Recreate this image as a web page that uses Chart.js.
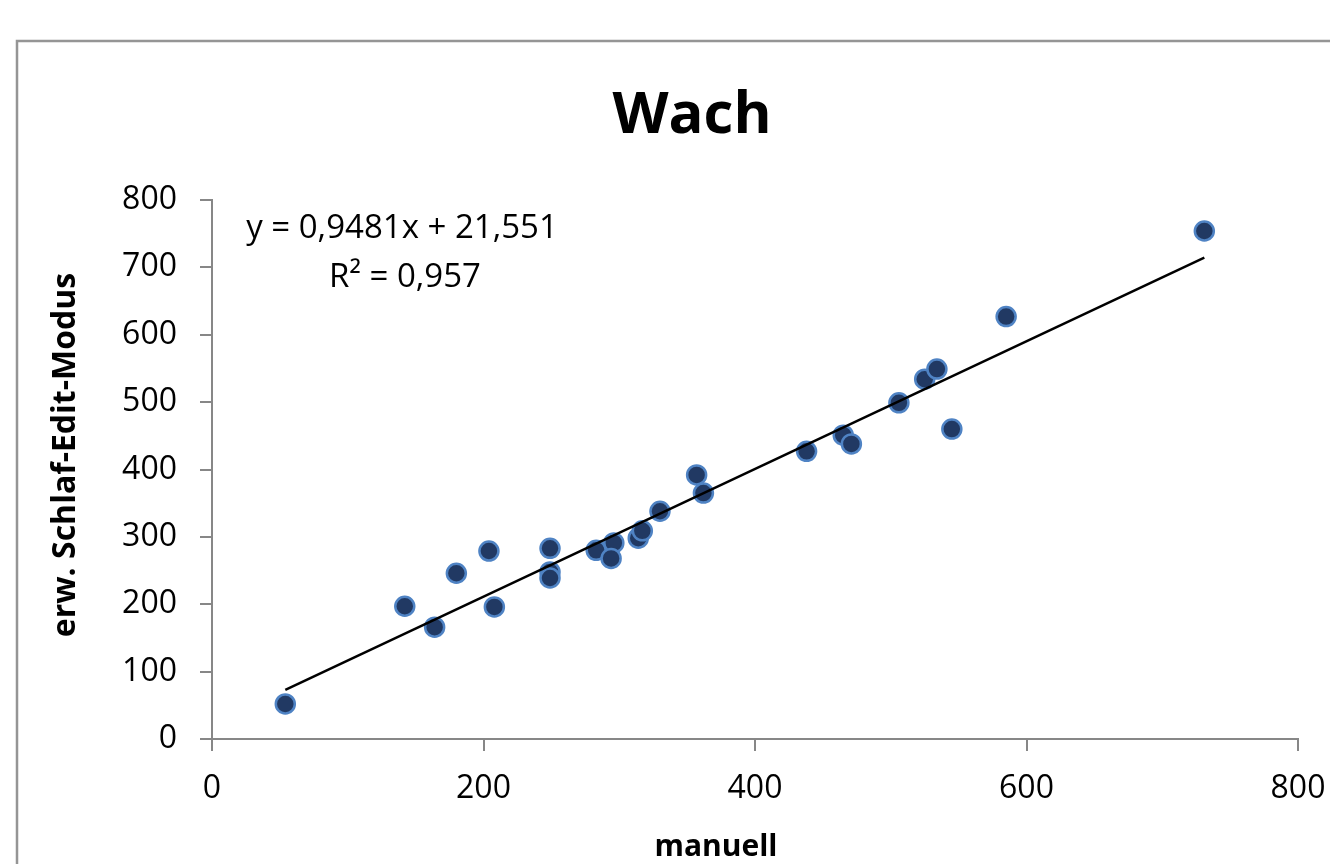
<!DOCTYPE html>
<html>
<head>
<meta charset="utf-8">
<script src="https://cdn.jsdelivr.net/npm/chart.js@4/dist/chart.umd.min.js"></script>
<style>
  html, body { margin: 0; padding: 0; background: #ffffff; overflow: hidden; }
  #wrap { position: absolute; left: 0; top: 0; width: 1330px; height: 864px; }
</style>
</head>
<body>
<div id="wrap"><canvas id="c" width="1330" height="864"></canvas></div>
<script>
// ---- data ----
const manuell = [54, 142, 164, 180, 204, 208, 249, 249, 249, 283, 296, 294, 314, 317, 330, 357, 362, 438, 465, 471, 506, 525, 534, 545, 585, 731];
const schlafEdit = [52, 197, 166, 246, 279, 196, 283, 248, 239, 280, 291, 268, 298, 309, 338, 392, 365, 427, 451, 438, 499, 534, 549, 460, 627, 754];
const xTicks = [0, 200, 400, 600, 800];
const yTicks = [0, 100, 200, 300, 400, 500, 600, 700, 800];
const trendSlope = 0.9481;
const trendIntercept = 21.551;
const chartTitle = 'Wach';
const xTitle = 'manuell';
const yTitle = 'erw. Schlaf-Edit-Modus';
const eqLine1 = 'y = 0,9481x + 21,551';
const eqLine2 = 'R² = 0,957';

const points = manuell.map((x, i) => ({ x: x, y: schlafEdit[i] }));
const xMin = Math.min(...manuell), xMax = Math.max(...manuell);
const trend = [xMin, xMax].map(x => ({ x: x, y: trendSlope * x + trendIntercept }));

const FONT = '"Open Sans", "DejaVu Sans", sans-serif';
const AXIS_GRAY = '#878787';

const decor = {
  id: 'decor',
  beforeDraw(chart) {
    const ctx = chart.ctx;
    ctx.save();
    ctx.fillStyle = '#ffffff';
    ctx.fillRect(0, 0, chart.width, chart.height);
    ctx.strokeStyle = '#959595';
    ctx.lineWidth = 2.5;
    ctx.strokeRect(17, 41, 1400, 900);
    ctx.restore();
  },
  afterDraw(chart) {
    const ctx = chart.ctx;
    ctx.save();
    ctx.fillStyle = '#000000';
    ctx.textAlign = 'center';
    ctx.textBaseline = 'alphabetic';
    ctx.font = 'bold 58px ' + FONT;
    ctx.fillText(chartTitle, 692, 133);
    ctx.font = '33px ' + FONT;
    ctx.fillText(eqLine1, 402, 238);
    ctx.fillText(eqLine2, 405, 287);
    ctx.font = 'bold 30px ' + FONT;
    ctx.fillText(xTitle, 716, 856);
    ctx.translate(75, 455);
    ctx.rotate(-Math.PI / 2);
    ctx.font = 'bold 32px ' + FONT;
    ctx.fillText(yTitle, 0, 0);
    ctx.restore();
  }
};

new Chart(document.getElementById('c'), {
  type: 'scatter',
  data: {
    datasets: [
      {
        type: 'line',
        label: 'Trend',
        data: trend,
        borderColor: '#000000',
        borderWidth: 2.5,
        pointRadius: 0,
        fill: false,
        order: 0
      },
      {
        label: 'Wach',
        data: points,
        backgroundColor: '#213963',
        borderColor: '#4f83c4',
        borderWidth: 2.5,
        pointRadius: 9.5,
        pointHoverRadius: 9.5,
        order: 1
      }
    ]
  },
  options: {
    responsive: false,
    animation: false,
    devicePixelRatio: 1,
    layout: { padding: { left: 0, top: 200, right: 32, bottom: 0 } },
    plugins: {
      legend: { display: false },
      title: { display: false },
      tooltip: { enabled: false }
    },
    scales: {
      x: {
        type: 'linear',
        min: 0,
        max: 800,
        afterBuildTicks(scale) { scale.ticks = xTicks.map(v => ({ value: v })); },
        afterFit(scale) { scale.height = 125; scale.paddingRight = 0; scale.paddingLeft = 0; },
        ticks: {
          color: '#000000',
          font: { family: FONT, size: 32 },
          padding: 19,
          maxRotation: 0
        },
        grid: { drawOnChartArea: false, drawTicks: true, tickLength: 12, color: AXIS_GRAY, lineWidth: 2 },
        border: { display: true, color: AXIS_GRAY, width: 2 },
        title: { display: false }
      },
      y: {
        type: 'linear',
        min: 0,
        max: 800,
        afterBuildTicks(scale) { scale.ticks = yTicks.map(v => ({ value: v })); },
        afterFit(scale) { scale.width = 212; scale.paddingTop = 0; scale.paddingBottom = 0; },
        ticks: {
          color: '#000000',
          font: { family: FONT, size: 32 },
          padding: 23
        },
        grid: { drawOnChartArea: false, drawTicks: true, tickLength: 12, color: AXIS_GRAY, lineWidth: 2 },
        border: { display: true, color: AXIS_GRAY, width: 2 },
        title: { display: false }
      }
    }
  },
  plugins: [decor]
});
</script>
</body>
</html>
